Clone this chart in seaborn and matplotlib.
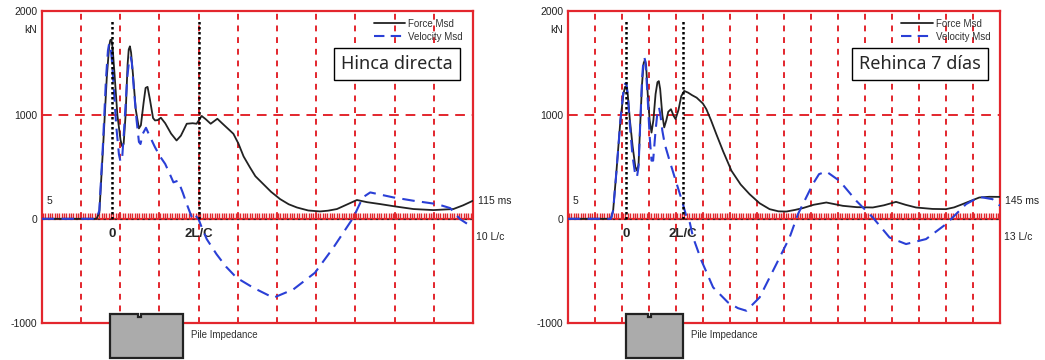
import matplotlib
matplotlib.use("Agg")
import matplotlib.pyplot as plt
import seaborn as sns
import numpy as np
from matplotlib.patches import Polygon
from matplotlib.lines import Line2D

# left panel (Hinca directa), x in grid divisions
izq_x_fuerza = [0, 1.40, 1.47, 1.57, 1.66, 1.72, 1.75, 1.78, 1.81, 1.86, 1.93, 2.01, 2.05, 2.09, 2.14,
                2.19, 2.22, 2.25, 2.28, 2.33, 2.40, 2.48, 2.53, 2.60, 2.65, 2.70, 2.76, 2.84, 2.89, 2.96,
                3.04, 3.15, 3.30, 3.44, 3.55, 3.70, 3.85, 3.95, 4.08, 4.18, 4.31, 4.48, 4.60, 4.80, 4.89,
                5.02, 5.15, 5.31, 5.45, 5.65, 5.85, 6.08, 6.30, 6.51, 6.80, 7.10, 7.30, 7.53, 7.80, 8.04,
                8.30, 8.63, 9.00, 9.48, 9.99, 10.5, 10.75, 11.0]
izq_fuerza = [0, 0, 60, 720, 1360, 1660, 1720, 1725, 1640, 1380, 1000, 760, 700, 720, 1000,
              1480, 1630, 1660, 1600, 1380, 1050, 870, 900, 1120, 1260, 1270, 1150, 970, 947, 950,
              973, 920, 820, 754, 800, 915, 920, 915, 990, 960, 915, 963, 920, 850, 818,
              722, 600, 496, 410, 335, 260, 190, 140, 109, 80, 71, 78, 94, 140, 181,
              160, 142, 120, 94, 84, 94, 130, 174]
izq_x_vel = [0, 1.40, 1.47, 1.56, 1.64, 1.69, 1.72, 1.75, 1.79, 1.84, 1.90, 1.97, 2.01, 2.05, 2.10,
             2.18, 2.23, 2.27, 2.30, 2.35, 2.42, 2.48, 2.52, 2.58, 2.66, 2.75, 2.89, 3.02, 3.15, 3.28,
             3.36, 3.48, 3.60, 3.70, 3.83, 3.89, 4.0, 4.10, 4.21, 4.46, 4.70, 4.97, 5.40, 5.91, 6.42,
             6.97, 7.44, 7.95, 8.19, 8.38, 8.97, 9.48, 10.08, 10.42, 10.67, 11.0]
izq_vel = [0, 0, 80, 700, 1350, 1620, 1685, 1680, 1530, 1250, 900, 620, 550, 570, 850,
           1350, 1530, 1555, 1500, 1250, 950, 740, 720, 820, 876, 800, 689, 600, 528, 420,
           351, 367, 250, 142, 13, 48, -3, -100, -196, -341, -460, -567, -664, -760, -679,
           -519, -277, 13, 206, 254, 206, 174, 142, 103, -3, -84]

# right panel (Rehinca 7 dias)
der_x_fuerza = [0, 1.60, 1.68, 1.80, 1.95, 2.06, 2.12, 2.17, 2.22, 2.30, 2.40, 2.50, 2.56, 2.62, 2.68,
                2.75, 2.81, 2.86, 2.90, 2.96, 3.03, 3.10, 3.17, 3.25, 3.32, 3.37, 3.42, 3.50, 3.57, 3.65,
                3.72, 3.82, 3.92, 3.99, 4.10, 4.20, 4.31, 4.45, 4.60, 4.77, 5.00, 5.13, 5.30, 5.50, 5.75,
                6.06, 6.40, 6.73, 7.10, 7.47, 7.80, 8.09, 8.40, 8.70, 9.10, 9.57, 10.18, 10.7, 11.29, 11.70,
                12.15, 12.50, 12.89, 13.5, 14.0, 14.30, 14.61, 15.23, 15.60, 16.0]
der_fuerza = [0, 0, 80, 450, 950, 1200, 1270, 1275, 1200, 950, 700, 500, 465, 520, 900,
              1300, 1500, 1530, 1480, 1200, 950, 830, 950, 1200, 1315, 1325, 1250, 1000, 880, 950,
              1030, 1055, 990, 960, 1050, 1180, 1231, 1215, 1190, 1166, 1110, 1055, 950, 814, 650,
              462, 330, 237, 150, 93, 72, 70, 85, 103, 135, 157, 125, 112, 109, 130,
              163, 135, 109, 95, 93, 110, 141, 205, 212, 211]
der_x_vel = [0, 1.60, 1.68, 1.80, 1.95, 2.06, 2.12, 2.17, 2.22, 2.30, 2.40, 2.50, 2.56, 2.62, 2.68,
             2.75, 2.80, 2.84, 2.88, 2.95, 3.03, 3.10, 3.16, 3.25, 3.33, 3.38, 3.43, 3.50, 3.59, 3.78,
             3.96, 4.10, 4.23, 4.40, 4.52, 4.64, 4.95, 5.38, 5.93, 6.30, 6.61, 7.10, 7.72, 8.21, 8.52,
             9.07, 9.30, 9.57, 10.06, 10.68, 11.29, 11.91, 12.52, 13.26, 14.0, 14.74, 15.23, 15.72, 16.0]
der_vel = [0, 0, 80, 450, 950, 1230, 1300, 1305, 1200, 900, 600, 420, 400, 500, 900,
           1350, 1520, 1550, 1500, 1200, 800, 560, 560, 850, 1050, 1070, 1000, 850, 718, 550,
           397, 280, 173, 13, -40, -180, -404, -660, -805, -860, -885, -757, -436, -180, 45,
           334, 430, 455, 365, 173, 13, -180, -243, -195, -51, 141, 211, 189, 125]

paneles = [
    dict(xf=izq_x_fuerza, f=izq_fuerza, xv=izq_x_vel, v=izq_vel, ndiv=11, marca0=1.79, marca2l=4.0,
         pila=(1.74, 3.6, 2.5), titulo="Hinca directa", tx=0.824, ms="115 ms", lc="10 L/c"),
    dict(xf=der_x_fuerza, f=der_fuerza, xv=der_x_vel, v=der_vel, ndiv=16, marca0=2.15, marca2l=4.27,
         pila=(2.15, 4.27, 3.04), titulo="Rehinca 7 días", tx=0.815, ms="145 ms", lc="13 L/c"),
]

sns.set_style("white")
plt.rcParams["font.family"] = ["Liberation Sans", "DejaVu Sans"]

rojo = "#e3262d"
azul = "#2a3fd6"

fig = plt.figure(figsize=(10.45, 3.6), dpi=100)
posiciones = [[0.0399, 0.1036, 0.4127, 0.8658], [0.5433, 0.1036, 0.4137, 0.8658]]

for pos, p in zip(posiciones, paneles):
    ax = fig.add_axes(pos)
    n = p["ndiv"]
    ax.set_xlim(0, n)
    ax.set_ylim(-1000, 2000)

    # grid
    for xg in range(1, n):
        ax.axvline(xg, color=rojo, lw=1.4, dashes=(3, 3), zorder=1)
    ax.axhline(1000, color=rojo, lw=1.4, dashes=(5, 3.5), zorder=1)
    # zero line with dense red ticks
    paso = n / 431.0 * 2.35
    ax.vlines(np.arange(paso / 2, n, paso), 0, 55, color=rojo, lw=1.0, zorder=1)
    ax.axhline(0, color=rojo, lw=1.6, zorder=1)
    ax.axhline(0, color="#333333", lw=0.8, dashes=(2, 3), zorder=1.5)

    # dotted markers
    ax.vlines([p["marca0"]], 0, 1900, color="black", lw=1.8, linestyles=(0, (1, 1)), zorder=4)
    ax.vlines([p["marca2l"]], 0, 1920, color="black", lw=1.8, linestyles=(0, (1, 1)), zorder=4)

    sns.lineplot(x=p["xf"], y=p["f"], ax=ax, color="#222222", lw=1.3, sort=False, zorder=3)
    sns.lineplot(x=p["xv"], y=p["v"], ax=ax, color=azul, lw=1.5, sort=False, zorder=3.5,
                 dashes=False, linestyle=(0, (6, 3.5)))

    for s in ax.spines.values():
        s.set_color(rojo)
        s.set_linewidth(1.6)
        s.set_visible(True)
    ax.set_xticks([])
    ax.set_yticks([-1000, 0, 1000, 2000])
    ax.set_yticklabels(["-1000", "0", "1000", "2000"], fontsize=7.5, color="#222222")
    ax.tick_params(axis="y", length=0, pad=3)
    ax.text(-0.012, 0.94, "kN", transform=ax.transAxes, ha="right", va="center", fontsize=7.5, color="#222222")
    ax.text(0.018, 0.392, "5", transform=ax.transAxes, ha="center", va="center", fontsize=7.5, color="#222222")
    ax.text(1.012, 0.392, p["ms"], transform=ax.transAxes, ha="left", va="center", fontsize=7.5, color="#222222")
    ax.text(1.008, 0.275, p["lc"], transform=ax.transAxes, ha="left", va="center", fontsize=7.5, color="#222222")

    ax.text(p["marca0"], -150, "0", ha="center", va="center", fontsize=9.5, fontweight="bold")
    ax.text(p["marca2l"], -150, "2L/C", ha="center", va="center", fontsize=9.5, fontweight="bold")

    # pile impedance symbol
    x0, x1, xn = p["pila"]
    e = n / 431.0 * 1.5
    pts = [(x0, -915), (xn - e, -915), (xn - e, -945), (xn + e, -945), (xn + e, -915), (x1, -915),
           (x1, -1340), (x0, -1340)]
    ax.add_patch(Polygon(pts, closed=True, facecolor="#ababab", edgecolor="#222222", lw=1.6,
                         clip_on=False, zorder=5))
    ax.text(x1 + n / 431.0 * 8, -1120, "Pile Impedance", ha="left", va="center", fontsize=7,
            color="#333333", clip_on=False)

    handles = [Line2D([], [], color="#222222", lw=1.3),
               Line2D([], [], color=azul, lw=1.5, linestyle=(0, (5, 3)))]
    ax.legend(handles, ["Force Msd", "Velocity Msd"], loc="upper right", frameon=False, fontsize=7,
              handlelength=3.2, handletextpad=0.3, labelspacing=0.3, borderaxespad=0.4,
              bbox_to_anchor=(0.995, 1.0), labelcolor="#333333")

    ax.text(p["tx"], 0.83, p["titulo"], transform=ax.transAxes, ha="center", va="center", fontsize=13,
            family=["Noto Sans", "DejaVu Sans"], zorder=6,
            bbox=dict(boxstyle="square,pad=0.4", facecolor="white", edgecolor="black", lw=1.0))

fig.savefig("out.png", dpi=100)
